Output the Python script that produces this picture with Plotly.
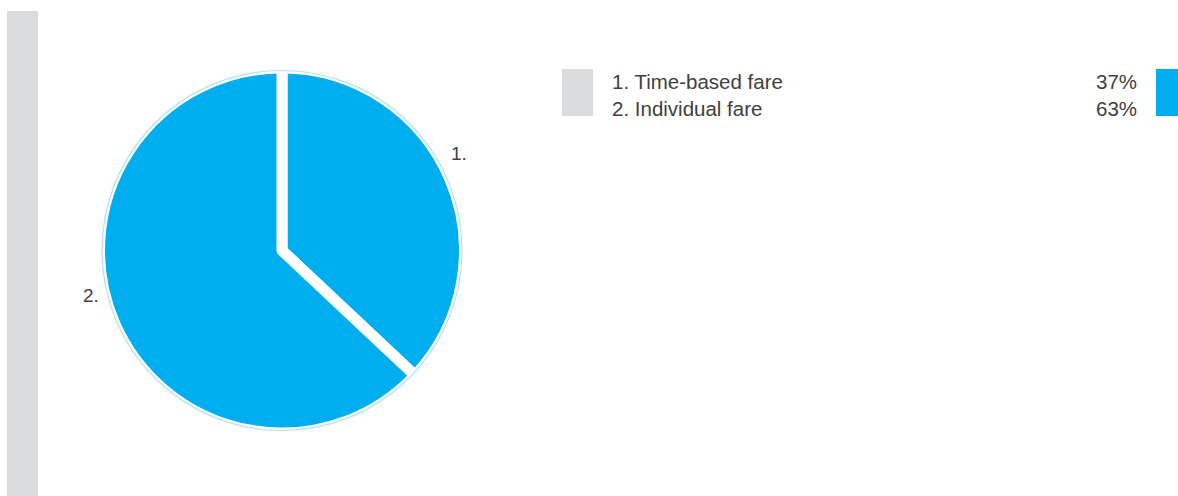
import plotly.graph_objects as go

# ---- data ----
categories = ["Time-based fare", "Individual fare"]
slice_labels = ["1.", "2."]
shares = [37, 63]

W, H = 1178, 496
BLUE = "#00aeef"
GRAY = "#dadbdd"
TEXT = "#404040"
RING = "#aee3f7"
FONT = "Liberation Sans"


def px(x):
    return x / W


def py(y):
    return 1 - y / H


cx, cy = 282, 250.5
R = 182.5
Rr = 180

fig = go.Figure()
fig.add_trace(go.Pie(
    values=shares,
    labels=categories,
    sort=False,
    direction="clockwise",
    rotation=0,
    marker=dict(colors=[BLUE, BLUE], line=dict(color="white", width=11)),
    textinfo="none",
    hoverinfo="label+percent",
    showlegend=False,
    domain=dict(x=[px(cx - R), px(cx + R)], y=[py(cy + R), py(cy - R)]),
))
fig.add_trace(go.Pie(
    values=[1],
    labels=["ring"],
    marker=dict(colors=["rgba(0,0,0,0)"], line=dict(color=RING, width=1.2)),
    textinfo="none",
    hoverinfo="skip",
    showlegend=False,
    domain=dict(x=[px(cx - Rr), px(cx + Rr)], y=[py(cy + Rr), py(cy - Rr)]),
))

shapes = [
    dict(type="rect", xref="paper", yref="paper", x0=px(7), x1=px(38), y0=py(496), y1=py(11),
         fillcolor=GRAY, line=dict(width=0), layer="below"),
    dict(type="rect", xref="paper", yref="paper", x0=px(562), x1=px(593), y0=py(116), y1=py(69),
         fillcolor=GRAY, line=dict(width=0)),
    dict(type="rect", xref="paper", yref="paper", x0=px(1156), x1=px(1178), y0=py(116), y1=py(69),
         fillcolor=BLUE, line=dict(width=0)),
]

annotations = []
label_pos = [(459, 153), (91, 295)]
for lab, (lx, ly) in zip(slice_labels, label_pos):
    annotations.append(dict(text=lab, x=px(lx), y=py(ly), xref="paper", yref="paper",
                            xanchor="center", yanchor="middle", showarrow=False,
                            font=dict(family=FONT, size=19, color=TEXT)))
row_y = [81, 108]
for i, (cat, val) in enumerate(zip(categories, shares)):
    annotations.append(dict(text=f"{i + 1}. {cat}", x=px(610), y=py(row_y[i]), xref="paper", yref="paper",
                            xanchor="left", yanchor="middle", showarrow=False,
                            font=dict(family=FONT, size=20.5, color=TEXT)))
    annotations.append(dict(text=f"{val}%", x=px(1139), y=py(row_y[i]), xref="paper", yref="paper",
                            xanchor="right", yanchor="middle", showarrow=False,
                            font=dict(family=FONT, size=20.5, color=TEXT)))

fig.update_layout(
    width=W, height=H,
    margin=dict(l=0, r=0, t=0, b=0),
    paper_bgcolor="white", plot_bgcolor="white",
    shapes=shapes, annotations=annotations,
    showlegend=False,
)
fig.write_html("out.html")
